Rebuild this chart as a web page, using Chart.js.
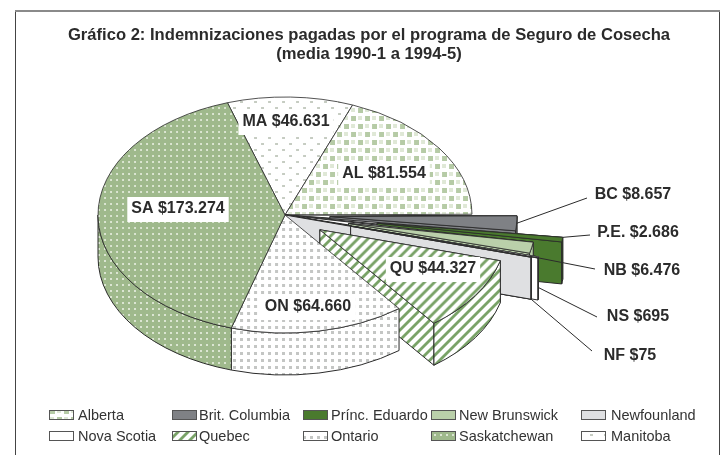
<!DOCTYPE html>
<html lang="es">
<head>
<meta charset="utf-8">
<style>html,body{margin:0;padding:0;background:#fff}canvas{display:block}</style>
<script src="https://cdn.jsdelivr.net/npm/chart.js@4"></script>
</head>
<body>
<canvas id="c" width="722" height="455"></canvas>
<script>
// Data, clockwise as drawn on the pie
const categories = ['Alberta','Brit. Columbia','Prínc. Eduardo','New Brunswick','Nova Scotia','Newfounland','Quebec','Ontario','Saskatchewan','Manitoba'];
const codes = ['AL','BC','P.E.','NB','NS','NF','QU','ON','SA','MA'];
const values = [81554,8657,2686,6476,695,75,44327,64660,173274,46631];
const legendOrder = ['Alberta','Brit. Columbia','Prínc. Eduardo','New Brunswick','Newfounland','Nova Scotia','Quebec','Ontario','Saskatchewan','Manitoba'];
const titleLines = ['Gráfico 2: Indemnizaciones pagadas por el programa de Seguro de Cosecha','(media 1990-1 a 1994-5)'];

// Appearance
const explode = [0,45,93,65,75,68,42,0,0,0];           // slice pull-out along its mid angle
const fills = ['al','#7f8185','#4a7a2e','#bad0aa','#ffffff','#dfe0e2','qu','on','sa','ma'];
const drawOrder = [9,0,1,2,3,4,5,6,7,8];
const trails = {1:'#fff',2:'#fff',3:'#fff',4:'#fff',5:'#dfe0e2'};
const PIE = {cx:285, cy:215, radius:187, squash:0.631, depth:42, rotation:21.2};
const INK = '#2b2b2b';
const FONT = '"Liberation Sans", Arial, sans-serif';
// label centre, [leader end], wall drop of the leader start
const labelLayout = {
  AL:{x:384,y:174}, MA:{x:286,y:122}, SA:{x:178,y:209}, ON:{x:308,y:307}, QU:{x:433,y:269},
  BC:{x:633,y:195,lead:[587,198],drop:0,frac:.5},
  'P.E.':{x:638,y:233,lead:[590,235],drop:0,frac:0},
  NB:{x:642,y:271,lead:[595,269],drop:3,frac:1},
  NS:{x:638,y:317,lead:[597,317],drop:30,frac:.5},
  NF:{x:630,y:356,lead:[592,351],drop:42,frac:.5}
};
const legendCols = [49,172,303,431,581], legendTextX = [78,199,331,459,611], legendRows = [410,431];

function tile(w,h,paint){const c=document.createElement('canvas');c.width=w;c.height=h;const g=c.getContext('2d');paint(g,w,h);return c;}
const tiles = {
  al:tile(14,16,g=>{g.fillStyle='#fff';g.fillRect(0,0,14,16);g.fillStyle='#dfe8d6';g.fillRect(8,1,4,4);g.fillRect(1,9,4,4);g.fillStyle='#b6cba6';g.fillRect(1,1,5,5);g.fillRect(8,9,5,5);}),
  ma:tile(14,12,g=>{g.fillStyle='#fff';g.fillRect(0,0,14,12);g.fillStyle='#c6ccc2';g.fillRect(2,2,3,2);g.fillRect(9,8,3,2);}),
  sa:tile(6,6,g=>{g.fillStyle='#9fb98c';g.fillRect(0,0,6,6);g.fillStyle='#dbe5d2';g.fillRect(2,2,2,2);}),
  on:tile(7,7,g=>{g.fillStyle='#fff';g.fillRect(0,0,7,7);g.fillStyle='#c4c6c4';g.fillRect(2,2,3,3);}),
  qu:tile(10,10,g=>{g.fillStyle='#fff';g.fillRect(0,0,10,10);g.strokeStyle='#7aa368';g.lineWidth=2.8;
    [[-2,2,2,-2],[-2,12,12,-2],[8,12,12,8]].forEach(l=>{g.beginPath();g.moveTo(l[0],l[1]);g.lineTo(l[2],l[3]);g.stroke();});})
};
const ctx0 = document.getElementById('c').getContext('2d');
function paint(key){return tiles[key]?ctx0.createPattern(tiles[key],'repeat'):key;}
function topPaint(key){
  if(!tiles[key])return key;
  const p=ctx0.createPattern(tiles[key],'repeat');p.setTransform(new DOMMatrix().scale(1,1/PIE.squash));return p;
}
const money = v => '$'+String(v).replace(/\B(?=(\d{3})+$)/g,'.');
// Screen position of a slice's apex, after pull-out and tilt
function apexOf(a,i){
  const mid=(a.startAngle+a.endAngle)/2, off=explode[i];
  return [PIE.cx+Math.cos(mid)*off, PIE.cy+Math.sin(mid)*off*PIE.squash];
}

const pie3d = {
  id:'pie3d',
  beforeDraw(chart){
    const c=chart.ctx;c.save();c.fillStyle='#fff';c.fillRect(0,0,722,455);
    c.strokeStyle='#444';c.lineWidth=1;c.beginPath();c.moveTo(15.5,455);c.lineTo(15.5,10);c.moveTo(719.5,10);c.lineTo(719.5,455);c.stroke();
    c.strokeStyle='#8a8a8a';c.lineWidth=2;c.beginPath();c.moveTo(15,11);c.lineTo(720,11);c.stroke();c.restore();
  },
  beforeDatasetsDraw(chart){
    const c=chart.ctx, arcs=chart.getDatasetMeta(0).data, P=PIE, D=P.depth, R=P.radius;
    const quad=(pts,fill)=>{c.beginPath();pts.forEach((p,i)=>i?c.lineTo(p[0],p[1]):c.moveTo(p[0],p[1]));c.closePath();c.fillStyle=fill;c.fill();c.stroke();};
    c.save();c.strokeStyle=INK;c.lineWidth=1;c.lineJoin='round';
    drawOrder.forEach(i=>{
      const a=arcs[i], apex=apexOf(a,i);
      const edge=t=>[apex[0]+Math.cos(t)*R, apex[1]+Math.sin(t)*R*P.squash];
      const E0=edge(a.startAngle), E1=edge(a.endAngle), fill=paint(fills[i]);
      // trail back to the hub for the exploded thin slices
      if(trails[i]){
        quad([[P.cx,P.cy],E0,E1],trails[i]);
        if(i===5)quad([[P.cx,P.cy],E1,[E1[0],E1[1]+D],[P.cx,P.cy+D]],trails[i]);
      }
      // radial cut walls, exposed only on exploded slices
      if(explode[i]>0)[E0,E1].forEach(E=>quad([apex,E,[E[0],E[1]+D],[apex[0],apex[1]+D]],fill));
      // outer wall, front half only
      const a0=Math.max(a.startAngle,0), a1=Math.min(a.endAngle,Math.PI);
      if(a1>a0){
        c.beginPath();c.ellipse(apex[0],apex[1],R,R*P.squash,0,a0,a1);
        c.ellipse(apex[0],apex[1]+D,R,R*P.squash,0,a1,a0,true);c.closePath();
        c.fillStyle=fill;c.fill();c.stroke();
      }
      // top face: the library's own arc element under a tilt transform
      c.save();c.translate(apex[0],apex[1]);c.scale(1,P.squash);c.translate(-a.x,-a.y);a.draw(c);c.restore();
    });
    c.restore();
    return false;
  },
  afterDraw(chart){
    const c=chart.ctx, arcs=chart.getDatasetMeta(0).data, P=PIE;
    c.save();
    // labels and leaders
    c.font='bold 16px '+FONT;c.textAlign='center';c.textBaseline='middle';
    codes.forEach((code,i)=>{
      const L=labelLayout[code], text=code+' '+money(values[i]), w=c.measureText(text).width;
      if(L.lead){
        const a=arcs[i], apex=apexOf(a,i), t=a.startAngle+(a.endAngle-a.startAngle)*L.frac;
        const px=apex[0]+Math.cos(t)*P.radius, py=apex[1]+Math.sin(t)*P.radius*P.squash+L.drop;
        c.strokeStyle=INK;c.lineWidth=1;c.beginPath();c.moveTo(px,py);c.lineTo(L.lead[0],L.lead[1]);c.stroke();
      } else {
        c.fillStyle='#fff';c.fillRect(L.x-w/2-4,L.y-12,w+8,25);
      }
      c.fillStyle=INK;c.fillText(text,L.x,L.y);
    });
    // legend
    c.font='14.5px '+FONT;c.textAlign='left';
    legendOrder.forEach((name,n)=>{
      const col=n%5,row=Math.floor(n/5),idx=categories.indexOf(name),x=legendCols[col],y=legendRows[row];
      c.fillStyle=paint(fills[idx]);c.fillRect(x,y,24,9);
      c.strokeStyle='#555';c.lineWidth=1;c.strokeRect(x+.5,y+.5,24,9);
      c.fillStyle='#333';c.fillText(name,legendTextX[col],y+6);
    });
    c.restore();
  }
};

new Chart(document.getElementById('c'),{
  type:'pie',
  plugins:[pie3d],
  data:{labels:categories,datasets:[{
    data:values,
    backgroundColor:fills.map(topPaint),
    borderColor:INK,
    borderWidth:1,
    radius:PIE.radius,
    rotation:PIE.rotation
  }]},
  options:{
    responsive:false,
    animation:false,
    cutout:'0%',
    layout:{padding:{left:16,top:0,right:0,bottom:0}},
    plugins:{
      legend:{display:false},
      tooltip:{enabled:false},
      title:{display:true,text:titleLines,color:INK,font:{family:FONT,weight:'bold',size:16.6,lineHeight:1.2},padding:{top:25,bottom:0}}
    }
  }
});
</script>
</body>
</html>
